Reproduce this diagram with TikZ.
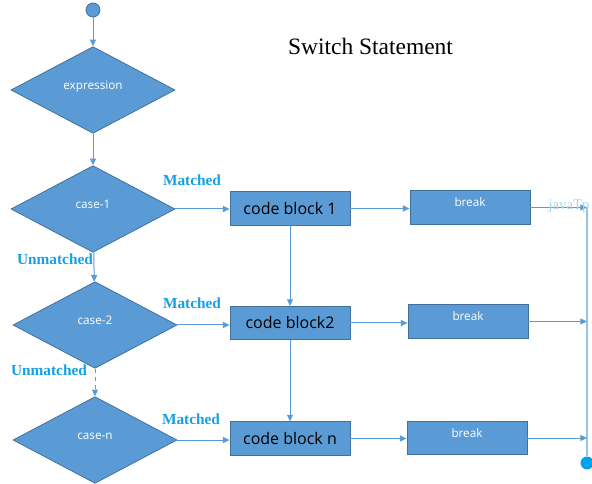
\documentclass[tikz,border=0pt]{standalone}
\usepackage{fontspec}
\setmainfont{Liberation Serif}
\newfontfamily\boxfont{Open Sans}
\usetikzlibrary{shapes.geometric,arrows.meta}
\definecolor{boxblue}{RGB}{91,155,213}
\definecolor{edgeblue}{RGB}{65,113,156}
\definecolor{labelblue}{RGB}{20,160,230}
\definecolor{endblue}{RGB}{0,162,237}
\definecolor{railblue}{RGB}{150,195,230}
\definecolor{markblue}{RGB}{160,215,235}
\tikzset{every picture/.style={line width=0.75pt},
  decision/.style={diamond, fill=boxblue, draw=edgeblue, line width=0.6pt, minimum width=123pt, minimum height=65pt, inner sep=0pt, text=white, font=\boxfont\fontsize{8.8}{10}\selectfont, text height=6.5pt, text depth=7.6pt},
  codebox/.style={rectangle, fill=boxblue, draw=edgeblue, line width=0.6pt, minimum width=90pt, minimum height=25pt, inner sep=0pt, font=\boxfont\fontsize{12}{14}\selectfont},
  breakbox/.style={rectangle, fill=boxblue, draw=edgeblue, line width=0.6pt, minimum width=90pt, minimum height=25pt, inner sep=0pt, text=white, font=\boxfont\fontsize{8.8}{10}\selectfont, text height=6.5pt, text depth=7.6pt},
  flow/.style={draw=boxblue, line width=0.75pt, -{Triangle[length=5pt,width=4.5pt]}},
  caselabel/.style={text=labelblue, font=\bfseries\fontsize{11.5}{13}\selectfont, inner sep=0pt}
}

\begin{document}
\begin{tikzpicture}[x=0.75pt,y=0.75pt,yscale=-1,xscale=1]
\useasboundingbox (0,0) rectangle (592,484);

% start and end points
\node [circle, fill=boxblue, draw=edgeblue, line width=0.6pt, minimum size=10.5pt, inner sep=0pt] (start) at (93,10) {};
\node [circle, fill=endblue, minimum size=9.75pt, inner sep=0pt] (stop) at (587,463) {};

% Decisions
\node [decision] (expr) at (93,90) {expression};
\node [decision] (case1) at (93,209) {case-1};
\node [decision] (case2) at (95,325) {case-2};
\node [decision] (casen) at (95,440) {case-n};

% Code blocks
\node [codebox] (cb1) at (290,208.5) {code block 1};
\node [codebox] (cb2) at (290,323) {code block2};
\node [codebox] (cbn) at (290,438.5) {code block n};

% Break boxes
\node [breakbox] (b1) at (470,207.5) {break};
\node [breakbox] (b2) at (468,321.5) {break};
\node [breakbox] (bn) at (467,438) {break};

% Down the cases
\draw [flow] (start) -- (expr);
\draw [flow] (expr) -- (case1);
\draw [flow] (case1) -- (case2);
\draw [flow, dashed] (case2) -- (casen);

% Matched
\draw [flow] (case1.east) -- (case1.east -| cb1.west);
\draw [flow] (case2.east) -- (case2.east -| cb2.west);
\draw [flow] (casen.east) -- (casen.east -| cbn.west);

% Fall through
\draw [flow] (cb1) -- (cb2);
\draw [flow] (cb2) -- (cbn);

% To break
\draw [flow] (cb1.east) -- (cb1.east -| b1.west);
\draw [flow] (cb2.east) -- (cb2.east -| b2.west);
\draw [flow] (cbn.east) -- (cbn.east -| bn.west);

% Out of the switch
\draw [railblue, line width=1pt] (stop.center |- b1.east) -- (stop);
\draw [flow] (b1.east) -- (b1.east -| stop.center);
\draw [flow] (b2.east) -- (b2.east -| stop.center);
\draw [flow] (bn.east) -- (bn.east -| stop.center);

% Text Node
\node [font=\fontsize{17.6}{20}\selectfont] (title) at (370.5,46) {Switch Statement};
% Text Node
\node [caselabel] (m1) at (192,180) {Matched};
\node [caselabel] (m2) at (192,303) {Matched};
\node [caselabel] (mn) at (191,419) {Matched};
% Text Node
\node [caselabel] (u1) at (55,259) {Unmatched};
\node [caselabel] (u2) at (49,370) {Unmatched};
% Text Node
\node [text=markblue, font=\fontsize{11}{12}\selectfont, inner sep=0pt] (mark) at (569,206) {javaTp};
\end{tikzpicture}
\end{document}
